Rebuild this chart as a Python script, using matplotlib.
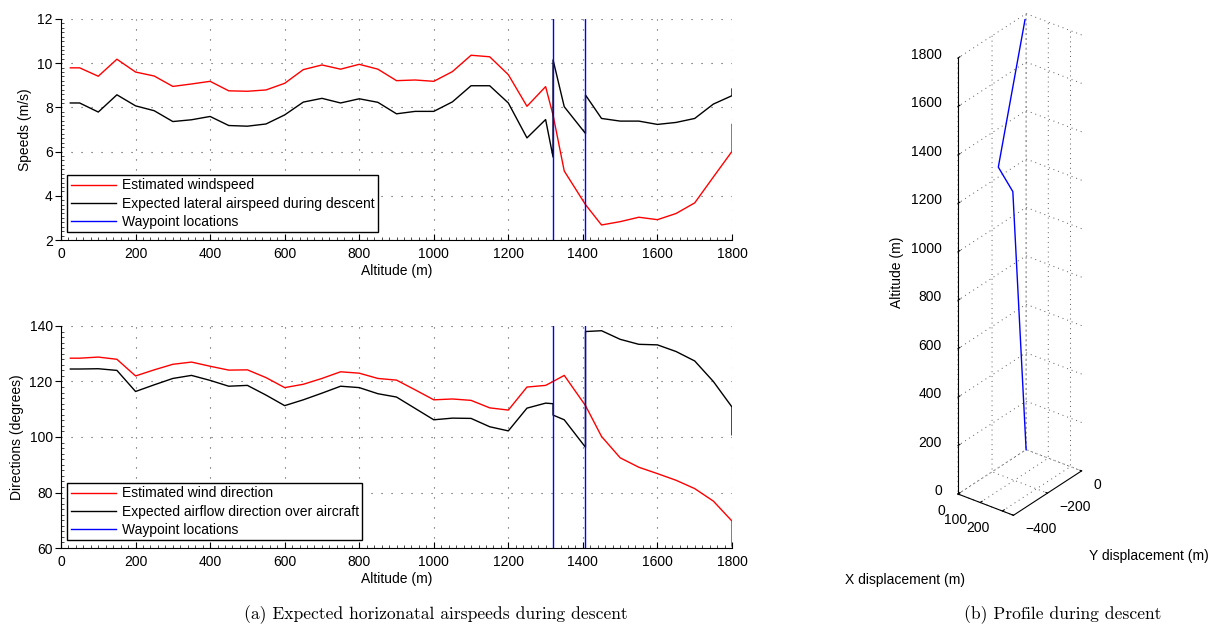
import matplotlib
matplotlib.use('Agg')
import matplotlib.pyplot as plt
from matplotlib.ticker import MultipleLocator, NullFormatter
from mpl_toolkits.mplot3d import proj3d

plt.rcParams['font.family'] = ['Liberation Sans', 'DejaVu Sans']
plt.rcParams['font.size'] = 10
plt.rcParams['axes.unicode_minus'] = True

# altitude samples (m)
alt_main = [25, 50, 100, 150, 200, 250, 300, 350, 400, 450, 500, 550, 600, 650, 700,
            750, 800, 850, 900, 950, 1000, 1050, 1100, 1150, 1200, 1250, 1300, 1320]
alt_tail = [1450, 1500, 1550, 1600, 1650, 1700, 1750, 1800, 1800]
waypoints = [1320, 1407]

alt_red = alt_main + [1350, 1407] + alt_tail
alt_black = alt_main + [1320, 1350, 1407, 1407] + alt_tail

windspeed = [9.79, 9.79, 9.41, 10.18, 9.60, 9.42, 8.95, 9.06, 9.18, 8.75, 8.73, 8.79, 9.09, 9.71,
             9.92, 9.73, 9.95, 9.73, 9.21, 9.24, 9.18, 9.62, 10.36, 10.29, 9.48, 8.05, 8.94, 7.65,
             5.12, 3.60,
             2.68, 2.83, 3.03, 2.92, 3.20, 3.68, 4.85, 6.01, 7.23]
airspeed = [8.20, 8.20, 7.79, 8.57, 8.07, 7.85, 7.36, 7.44, 7.59, 7.18, 7.15, 7.25, 7.66, 8.24,
            8.41, 8.20, 8.39, 8.23, 7.71, 7.82, 7.82, 8.25, 8.98, 8.98, 8.20, 6.62, 7.45, 5.75,
            10.15, 8.03, 6.82, 8.56,
            7.50, 7.38, 7.38, 7.23, 7.32, 7.50, 8.15, 8.53, 8.83]

wind_dir = [128.4, 128.4, 128.8, 128.0, 122.0, 124.2, 126.2, 127.0, 125.5, 124.1, 124.2, 121.4,
            117.8, 119.0, 121.1, 123.5, 123.0, 121.1, 120.5, 117.0, 113.4, 113.7, 113.2, 110.5,
            109.7, 118.0, 118.6, 120.0,
            122.2, 111.3,
            100.2, 92.5, 89.1, 86.8, 84.4, 81.4, 76.9, 69.7, 60.7]
airflow_dir = [124.5, 124.5, 124.6, 124.0, 116.4, 118.8, 121.1, 122.2, 120.4, 118.3, 118.6, 115.1,
               111.3, 113.4, 115.8, 118.3, 117.8, 115.6, 114.4, 110.3, 106.2, 106.8, 106.7, 103.7,
               102.2, 110.4, 112.2, 112.0,
               107.9, 106.2, 96.3, 138.0,
               138.3, 135.2, 133.4, 133.2, 130.8, 127.4, 120.0, 110.8, 100.8]

# descent profile (3D)
path_x = [0, 174, 231, 0]
path_y = [0, -390, -379, 0]
path_z = [1800, 1406, 1320, 0]
xticks3 = [0, 100, 200]
yticks3 = [-400, -200, 0]
zticks3 = list(range(0, 1801, 200))

W, H = 1227, 627
fig = plt.figure(figsize=(W / 100, H / 100), dpi=100)

grid_kw = dict(color='0.3', linestyle=(0, (1, 8)), linewidth=0.8)


def style_2d(ax, ylim, ystep):
    ax.set_xlim(0, 1800)
    ax.set_ylim(*ylim)
    ax.xaxis.set_major_locator(MultipleLocator(200))
    ax.yaxis.set_major_locator(MultipleLocator(ystep))
    ax.xaxis.set_minor_locator(MultipleLocator(20))
    ax.yaxis.set_minor_locator(MultipleLocator(ystep / 10))
    ax.spines['top'].set_visible(False)
    ax.spines['right'].set_visible(False)
    ax.tick_params(axis='x', which='major', direction='in', length=4, pad=5)
    ax.tick_params(axis='y', which='major', direction='out', length=4, pad=2)
    ax.tick_params(which='minor', direction='in', length=2, width=0.5)
    ax.grid(True, which='major', **grid_kw)
    ax.set_xlabel('Altitude (m)', labelpad=2)


ax1 = fig.add_axes([61 / W, 387 / H, 671 / W, 221 / H])
ax1.plot(alt_red, windspeed, color='red', lw=1, label='Estimated windspeed')
ax1.plot(alt_black, airspeed, color='black', lw=1, label='Expected lateral airspeed during descent')
for i, w in enumerate(waypoints):
    ax1.axvline(w, color='blue', lw=1, label='Waypoint locations' if i == 0 else None)
style_2d(ax1, (2, 12), 2)
ax1.set_ylabel('Speeds (m/s)', labelpad=4)
ax1.legend(loc='lower left', bbox_to_anchor=(0.009, 0.035), borderaxespad=0,
           fancybox=False, edgecolor='black', framealpha=1, handlelength=3.3,
           handletextpad=0.4, labelspacing=0.3, borderpad=0.25)

ax2 = fig.add_axes([61 / W, 79 / H, 671 / W, 222 / H])
ax2.plot(alt_red, wind_dir, color='red', lw=1, label='Estimated wind direction')
ax2.plot(alt_black, airflow_dir, color='black', lw=1, label='Expected airflow direction over aircraft')
for i, w in enumerate(waypoints):
    ax2.axvline(w, color='blue', lw=1, label='Waypoint locations' if i == 0 else None)
style_2d(ax2, (60, 140), 20)
ax2.set_ylabel('Directions (degrees)', labelpad=4)
ax2.legend(loc='lower left', bbox_to_anchor=(0.009, 0.035), borderaxespad=0,
           fancybox=False, edgecolor='black', framealpha=1, handlelength=3.3,
           handletextpad=0.4, labelspacing=0.3, borderpad=0.25)

# 3D profile
ax3 = fig.add_axes([0.72, 0.08, 0.22, 0.86], projection='3d', proj_type='ortho')
ax3.plot(path_x, path_y, path_z, color='blue', lw=1)
ax3.view_init(elev=30, azim=-52.5)
ax3.set_xlim(0, 250)
ax3.set_ylim(-400, 0)
ax3.set_zlim(0, 1800)
ax3.set_box_aspect((250, 400, 1800))
ax3.set_xticks(xticks3)
ax3.set_yticks(yticks3)
ax3.set_zticks(zticks3)
ax3.zaxis.set_ticks_position('lower')
for axis in (ax3.xaxis, ax3.yaxis, ax3.zaxis):
    axis.set_major_formatter(NullFormatter())
    axis.set_pane_color((1, 1, 1, 0))
    axis.pane.set_edgecolor((1, 1, 1, 0))
    axis._axinfo['grid'].update(color='0.35', linestyle=(0, (1, 4)), linewidth=0.7)
    axis._axinfo['tick'].update(inward_factor=0.0, outward_factor=0.35)
    axis.line.set_color('black')
    axis.line.set_linewidth(0.8)
ax3.tick_params(labelsize=1, pad=0, width=0.8)
ax3.patch.set_alpha(0)


def corner(ax, x, y, z):
    xs, ys, _ = proj3d.proj_transform(x, y, z, ax.get_proj())
    px, py = ax.transData.transform((xs, ys))
    return px, H - py


# fit the 3D box onto the reference position
for step in range(3):
    fig.canvas.draw()
    ax_b = corner(ax3, 0, -400, 0)
    ax_t = corner(ax3, 0, -400, 1800)
    k = 436 / (ax_b[1] - ax_t[1])
    pos = ax3.get_position()
    cx, cy = pos.x0 + pos.width / 2, pos.y0 + pos.height / 2
    w, h = pos.width * k, pos.height * k
    dx = (958 - ax_b[0]) / W
    dy = -(494 - ax_b[1]) / H
    ax3.set_position([cx - w / 2 + dx, cy - h / 2 + dy, w, h])
fig.canvas.draw()


def tick_label(x, y, z, s, ox, oy, ha):
    px, py = corner(ax3, x, y, z)
    fig.text((px + ox) / W, 1 - (py + oy) / H, s, ha=ha, va='center')


for t in xticks3:
    tick_label(t, -400, 0, str(t), -13, 17, 'right')
for t in yticks3:
    tick_label(250, t, 0, str(t).replace('-', '\u2212'), 12, 14, 'left')
for t in zticks3:
    tick_label(0, -400, t, str(t), -16, -3, 'right')

fig.text(897 / W, 1 - 272 / H, 'Altitude (m)', rotation=90, ha='center', va='center')
fig.text(1149 / W, 1 - 556 / H, 'Y displacement (m)', ha='center', va='center')
fig.text(905 / W, 1 - 580 / H, 'X displacement (m)', ha='center', va='center')

fig.text(436 / W, 1 - 615 / H, '(a) Expected horizonatal airspeeds during descent',
         family='cmr10', fontsize=12.6, ha='center', va='center')
fig.text(1063 / W, 1 - 615 / H, '(b) Profile during descent',
         family='cmr10', fontsize=12.6, ha='center', va='center')

fig.savefig('out.png', dpi=100)
